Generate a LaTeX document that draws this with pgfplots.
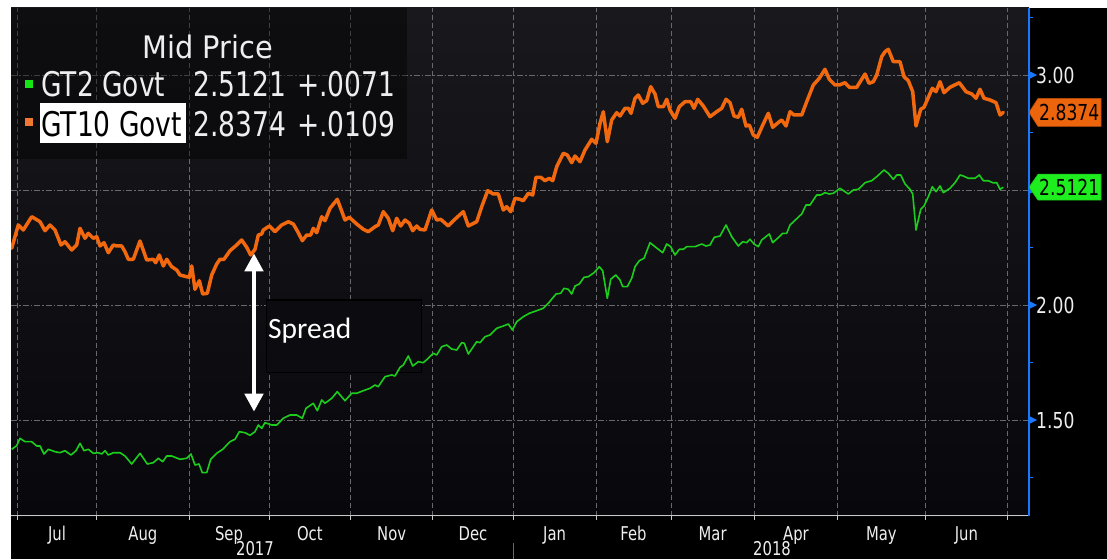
\documentclass[border=0pt]{standalone}
\usepackage{pgfplots}
\pgfplotsset{compat=1.18}
\usepackage{fontspec}
\usetikzlibrary{arrows.meta}
\newfontfamily\bbg{DejaVu Sans}[FakeStretch=0.78]
\newfontfamily\bbgw{DejaVu Sans}[FakeStretch=0.93]
\newfontfamily\carl{Carlito}
\definecolor{bgtop}{RGB}{24,24,29}
\definecolor{bgbot}{RGB}{8,8,12}
\definecolor{boxbg}{RGB}{12,12,16}
\definecolor{gridc}{RGB}{105,105,108}
\definecolor{axgray}{RGB}{200,200,200}
\definecolor{txt}{RGB}{238,238,238}
\definecolor{bblue}{RGB}{25,120,255}
\definecolor{orng}{RGB}{242,104,14}
\definecolor{grn}{RGB}{28,205,28}
\definecolor{otag}{RGB}{236,100,12}
\definecolor{gtag}{RGB}{30,238,30}
\definecolor{gsq}{RGB}{20,230,20}
\definecolor{osq}{RGB}{240,120,50}
\begin{document}
\begin{tikzpicture}[x=1pt,y=1pt]
\path[use as bounding box] (0,0) rectangle (1107,559);
\clip (0,0) rectangle (1107,559);
\fill[white] (0,0) rectangle (1107,559);
\fill[black] (11,0) rectangle (1107,551);
\begin{axis}[
  at={(11pt,551pt)}, anchor=north west, scale only axis,
  width=1018pt, height=508pt,
  xmin=11, xmax=1029, ymin=1.0826, ymax=3.2913,
  axis line style={draw=none},
  axis background/.style={top color=bgtop, bottom color=bgbot},
  xtick={17.3,96.7,189,269,350.7,432.7,513.3,596,671,754.3,837.7,925,1007.7},
  xticklabels={},
  xtick pos=left,
  tick align=outside,
  major tick length=4pt, minor tick length=4pt,
  xtick style={axgray, line width=0.8pt},
  xmajorgrids,
  x grid style={gridc, line width=0.8pt, dash pattern=on 5pt off 3pt},
  extra x ticks={57,142.85,229,309.85,391.7,473,554.65,633.5,712.65,796,881.35,966.35},
  extra x tick labels={Jul,Aug,Sep,Oct,Nov,Dec,Jan,Feb,Mar,Apr,May,Jun},
  extra x tick style={grid=none, major tick length=0pt,
     xticklabel style={anchor=base, yshift=-24pt}},
  xticklabel style={font=\bbg\fontsize{19}{19}\selectfont, text=txt, inner sep=0pt},
  ytick={1.5,2,2.5,3},
  yticklabels={1.50,2.00,,3.00},
  ytick pos=right, yticklabel pos=right,
  minor ytick={1.25,1.75,2.25,2.75,3.25},
  ytick style={bblue, line width=1pt},
  ymajorgrids,
  y grid style={gridc, line width=0.8pt, dash pattern=on 6pt off 2pt on 1.5pt off 2pt},
  yticklabel style={font=\bbg\fontsize{22}{22}\selectfont, text=txt, anchor=west, inner sep=0pt, xshift=3pt},
]
\draw[black, line width=1.5pt, fill=boxbg] (axis cs:266.7,2.0217) rectangle (axis cs:421.7,1.7057);
\addplot[orng, line width=3.5pt, line join=round, line cap=round] coordinates {
(11.7,2.2465)(18.3,2.3478)(23.3,2.3261)(31.7,2.3839)(40,2.3622)(45,2.3230)(50,2.3478)(55,2.3261)(61,2.2609)(65,2.2752)(71.7,2.2391)(76.7,2.2609)(80,2.3335)(85,2.2900)(88.3,2.3117)(93.3,2.2900)(96.7,2.2970)(100,2.2565)(104,2.2709)(108.3,2.2274)(113.3,2.2609)(116.7,2.2565)(121.7,2.2565)(125,2.2317)(128.3,2.1987)(133.3,2.1987)(140,2.2783)(146.7,2.1957)(153.3,2.1987)(155.7,2.1839)(159.3,2.2174)(163.3,2.1696)(166.7,2.1987)(171.7,2.1665)(176.7,2.1522)(180,2.1304)(186.7,2.1230)(189.3,2.1204)(191.7,2.1696)(195,2.0683)(199.3,2.1057)(202.7,2.0478)(207.3,2.0509)(211.7,2.1304)(216.7,2.1783)(220,2.1987)(224,2.1987)(230,2.2361)(236.7,2.2609)(241.7,2.2826)(246.7,2.2509)(250.7,2.2174)(255,2.2422)(258.3,2.3043)(261.7,2.3087)(263.3,2.3261)(269.3,2.3435)(275,2.3187)(281.7,2.3478)(288.3,2.3622)(293.3,2.3522)(298.3,2.3143)(302.3,2.2796)(306.7,2.3043)(310.7,2.3043)(313.3,2.3335)(316.7,2.3143)(321.7,2.3839)(325,2.3665)(330,2.4204)(337.3,2.4596)(345,2.3696)(349.3,2.3813)(356.7,2.3522)(363.3,2.3291)(368.3,2.3187)(375,2.3404)(378.3,2.3478)(383.3,2.4057)(388.3,2.3770)(392.7,2.3230)(396.7,2.3770)(400.7,2.3435)(405,2.3696)(409.3,2.3552)(412.7,2.3230)(416.7,2.3435)(420,2.3291)(425,2.3261)(431.7,2.4130)(436.7,2.3696)(440.7,2.3726)(448.3,2.3435)(453.3,2.3665)(463.3,2.4057)(468.3,2.3435)(476.7,2.3622)(481.7,2.4274)(487.7,2.4970)(493.3,2.4826)(498.3,2.4826)(503.3,2.4130)(506.7,2.4274)(510.7,2.4057)(515,2.4639)(520,2.4596)(523.3,2.4535)(528.3,2.4857)(532.7,2.4783)(536,2.5552)(540.7,2.5552)(545,2.5404)(549.3,2.5509)(552.7,2.5404)(556.7,2.6013)(563.3,2.6596)(567.3,2.6522)(571.7,2.6187)(575,2.6478)(580,2.6230)(585,2.6739)(591.7,2.7204)(596,2.7030)(600,2.7900)(603.3,2.8404)(607.3,2.7100)(611.7,2.8043)(616.7,2.8361)(620,2.8217)(625,2.8552)(628.3,2.8552)(631,2.8335)(635,2.8987)(638.3,2.9130)(642.7,2.8770)(646.7,2.8883)(650.7,2.9491)(655,2.9174)(658.3,2.8622)(663.3,2.8622)(666.7,2.8943)(670,2.8478)(675,2.8117)(679.3,2.8622)(685,2.8839)(690.7,2.8839)(694,2.8552)(697.7,2.8943)(703.3,2.8652)(710,2.8187)(716.7,2.8404)(721.7,2.8552)(726,2.8943)(730,2.8796)(734,2.8217)(738.3,2.8161)(741.7,2.8509)(746,2.7783)(749.3,2.7826)(753.3,2.7391)(757.3,2.7291)(761.7,2.7726)(768.3,2.8335)(772.7,2.7726)(779.3,2.7970)(781.7,2.8043)(786,2.7783)(790,2.8404)(794,2.8261)(801.7,2.8261)(806.7,2.8839)(813.3,2.9565)(819.3,2.9857)(825,3.0248)(829.3,2.9813)(835,2.9565)(839.3,2.9565)(845,2.9665)(849.3,2.9465)(856.7,2.9465)(861.7,2.9813)(865,3.0043)(869,2.9639)(873.3,2.9709)(876.7,3.0000)(881.7,3.0796)(885,3.1013)(888.3,3.1117)(893.3,3.0578)(900,3.0578)(904,2.9926)(908.3,2.9752)(912.7,2.9274)(916,2.7783)(920.7,2.8509)(924,2.8596)(932.3,2.9422)(936,2.9274)(940,2.9709)(944,2.9230)(950,2.9465)(959.3,2.9665)(966,2.9274)(971.7,2.9174)(976,2.8987)(980,2.9378)(984,2.8987)(990,2.8913)(996,2.8796)(1000,2.8261)(1003.3,2.8374)
};
\addplot[grn, line width=1.6pt, line join=round] coordinates {
(11.7,1.3726)(16.7,1.3883)(20,1.4204)(25,1.4057)(31.7,1.4057)(36.7,1.3870)(40,1.3870)(44,1.3522)(48.3,1.3726)(55,1.3622)(60,1.3578)(65,1.3665)(71,1.3478)(76,1.3665)(80,1.3987)(84,1.3665)(88.3,1.3726)(93.3,1.3552)(98.3,1.3578)(101.7,1.3522)(105,1.3665)(108.3,1.3478)(113.3,1.3578)(120,1.3578)(125,1.3435)(131.7,1.3087)(140,1.3552)(147.3,1.3087)(153.3,1.3143)(158.3,1.3335)(162.7,1.3187)(166.7,1.3435)(171.7,1.3435)(180,1.3291)(186.7,1.3335)(191,1.3522)(195,1.3043)(199,1.3087)(202.3,1.2709)(206.7,1.2709)(210.7,1.3291)(216.7,1.3552)(222.7,1.3726)(230,1.4057)(235,1.4161)(239.3,1.4491)(245,1.4448)(250,1.4335)(255,1.4491)(258.3,1.4783)(261.7,1.4639)(265,1.4883)(271.7,1.4783)(276.7,1.4783)(283.3,1.5074)(290,1.5217)(296.7,1.5217)(302.3,1.5074)(306,1.5509)(313.3,1.5726)(317.3,1.5404)(321.7,1.5870)(325,1.5726)(331.7,1.5943)(337.3,1.6230)(345,1.5839)(351.7,1.6161)(356.7,1.6161)(363.3,1.6274)(370,1.6378)(375,1.6522)(378.3,1.6448)(385,1.6883)(391.7,1.6957)(395,1.6913)(400,1.7291)(403.3,1.7391)(408.3,1.7783)(412.7,1.7348)(418.3,1.7535)(423.3,1.7491)(428.3,1.7683)(433.3,1.7900)(436.7,1.7826)(441.7,1.8187)(446.7,1.8261)(451.7,1.8087)(456.7,1.8043)(461.7,1.8361)(464.3,1.8335)(468.3,1.7870)(476.7,1.8404)(480,1.8361)(485,1.8622)(490,1.8696)(496.7,1.8987)(503.3,1.9087)(508.3,1.9174)(512.3,1.8913)(516.7,1.9274)(523.3,1.9491)(529.3,1.9639)(536.7,1.9752)(543.3,1.9857)(548.3,2.0074)(556,2.0478)(560.7,2.0509)(564,2.0726)(568.3,2.0683)(571.7,2.0478)(575,2.0826)(579.3,2.0913)(584,2.1204)(588.3,2.1230)(594,2.1404)(599.3,2.1665)(602.7,2.1491)(607.3,2.0291)(610.7,2.1117)(615.7,2.1304)(620,2.1087)(622.7,2.0796)(627.3,2.0796)(631.7,2.1161)(635,2.1665)(639.3,2.1926)(644,2.2030)(650,2.2709)(655,2.2535)(662.7,2.2274)(666.7,2.2652)(670.7,2.2535)(675,2.2174)(679.3,2.2422)(683.3,2.2422)(686.7,2.2535)(695,2.2535)(701.7,2.2652)(706,2.2565)(710,2.2609)(714.3,2.2943)(720,2.3000)(726,2.3478)(731.7,2.2970)(738.3,2.2565)(742.7,2.2752)(746.7,2.2709)(750,2.2857)(754,2.2652)(758.3,2.2535)(761.7,2.2826)(769.3,2.3087)(772.7,2.2709)(779.3,2.2970)(782.7,2.3117)(786.7,2.3117)(790,2.3478)(801.7,2.3957)(806,2.4348)(810,2.4348)(816.7,2.4783)(820.7,2.4783)(825,2.4883)(829.3,2.4826)(833.3,2.4857)(840,2.5074)(848.3,2.4826)(853.3,2.5000)(858.3,2.5030)(865,2.5317)(871.7,2.5404)(876.7,2.5578)(884,2.5870)(888.3,2.5726)(893.3,2.5465)(896.7,2.5652)(900.7,2.5652)(905,2.5261)(910,2.5030)(912.7,2.4826)(916,2.3261)(920.7,2.4161)(924,2.4304)(928.3,2.4709)(932.3,2.5143)(936,2.4926)(940,2.5174)(943.3,2.4883)(950,2.5074)(955,2.5317)(960,2.5652)(963.3,2.5609)(968.3,2.5509)(975,2.5509)(979.3,2.5652)(983.3,2.5404)(988.3,2.5404)(992.7,2.5317)(996.7,2.5317)(1000,2.5030)(1003.3,2.5121)
};
\end{axis}
% axes lines
\draw[axgray, line width=1pt] (11,43) -- (1029,43);
\draw[bblue, line width=1.3pt] (1029,43) -- (1029,551);
\foreach \yy in {484,369,254,139} {
  \fill[bblue] (1029,\yy+4) -- (1037,\yy) -- (1029,\yy-4) -- cycle;
}
% year labels
\node[anchor=base, inner sep=0, text=txt, font=\bbg\fontsize{19}{19}\selectfont] at (255,4) {2017};
\node[anchor=base, inner sep=0, text=txt, font=\bbg\fontsize{19}{19}\selectfont] at (772,4) {2018};
\draw[gridc, line width=0.8pt] (513.3,0) -- (513.3,16);
% value tags
\filldraw[fill=otag, draw=otag!80!black, line width=0.6pt] (1029,446.6) -- (1038,460.6) -- (1101,460.6) -- (1101,432.6) -- (1038,432.6) -- cycle;
\node[anchor=base west, inner sep=0, text=black, font=\bbg\fontsize{22}{22}\selectfont] at (1039,438.6) {2.8374};
\filldraw[fill=gtag, draw=gtag!80!black, line width=0.6pt] (1029,371.8) -- (1038,384.8) -- (1101,384.8) -- (1101,358.8) -- (1038,358.8) -- cycle;
\node[anchor=base west, inner sep=0, text=black, font=\bbg\fontsize{22}{22}\selectfont] at (1039,363.8) {2.5121};
% legend box
\fill[black, opacity=0.4] (11,400) rectangle (407,551);
\node[anchor=base west, inner sep=0, text=txt, font=\bbgw\fontsize{31}{31}\selectfont] at (142,500.7) {Mid Price};
\fill[gsq] (25,471) rectangle (33,479);
\node[anchor=base west, inner sep=0, text=txt, font=\bbg\fontsize{34}{34}\selectfont] at (41,462.3) {GT2 Govt};
\node[anchor=base west, inner sep=0, text=txt, font=\bbg\fontsize{34}{34}\selectfont] at (193,462.3) {2.5121};
\node[anchor=base west, inner sep=0, text=txt, font=\bbg\fontsize{34}{34}\selectfont] at (297,462.3) {+.0071};
\fill[osq] (25,432.5) rectangle (33,440.5);
\fill[white] (40,416) rectangle (186,456);
\node[anchor=base west, inner sep=0, text=black, font=\bbg\fontsize{34}{34}\selectfont] at (41,422.3) {GT10 Govt};
\node[anchor=base west, inner sep=0, text=txt, font=\bbg\fontsize{34}{34}\selectfont] at (193,422.3) {2.8374};
\node[anchor=base west, inner sep=0, text=txt, font=\bbg\fontsize{34}{34}\selectfont] at (297,422.3) {+.0109};
% spread annotation
\draw[white, line width=4.5pt, {Triangle[width=18pt,length=18pt]}-{Triangle[width=18pt,length=18pt]}] (254,305.7) -- (254,147.3);
\node[anchor=base west, inner sep=0, text=white, font=\carl\fontsize{29.5}{30}\selectfont] at (268,220.7) {Spread};
\end{tikzpicture}
\end{document}
